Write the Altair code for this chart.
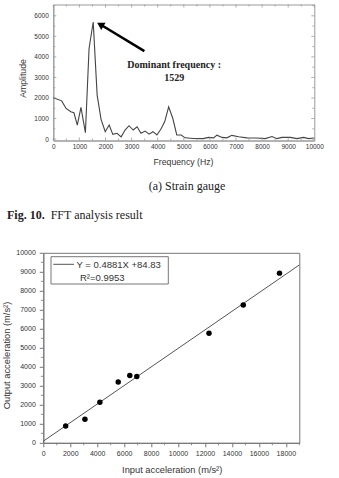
import altair as alt
import pandas as pd

# ---------------- data: FFT spectrum (strain gauge) ----------------
freq = [0, 320, 490, 670, 790, 920, 1060, 1230, 1370, 1529, 1680, 1830, 1990, 2140,
        2280, 2440, 2600, 2750, 2900, 3060, 3210, 3360, 3520, 3670, 3820, 3970, 4120,
        4270, 4420, 4580, 4730, 4900, 5050, 5370, 5740, 5950, 6140, 6270, 6460, 6650,
        6840, 7100, 7420, 7800, 8120, 8380, 8570, 8760, 9080, 9340, 9590, 9780, 10000]
amp = [2010, 1860, 1490, 1330, 1280, 680, 1540, 310, 4410, 5700, 2140, 960, 360, 680,
       230, 280, 110, 440, 650, 440, 600, 280, 390, 240, 360, 200, 480,
       850, 1570, 1000, 200, 200, 60, 30, 20, 80, 60, 190, 80, 60,
       180, 110, 60, 50, 20, 120, 20, 80, 80, 20, 80, 20, 50]

fft_x_labels = list(range(0, 10001, 1000))
fft_y_labels = list(range(0, 6001, 1000))
fft_x_minor = list(range(500, 10000, 1000))
fft_y_minor = list(range(500, 6501, 1000))

arrow_x = [3490, 1790]
arrow_y = [4280, 5590]
head_x = [1800]
head_y = [5575]
note_x = [4630, 4630]
note_y = [3600, 2980]
note_text = ["Dominant frequency :", "1529"]

# ---------------- data: input vs output acceleration ----------------
in_acc = [1660, 3090, 4200, 5560, 6420, 6940, 12300, 14840, 17530]
out_acc = [880, 1240, 2140, 3200, 3545, 3490, 5770, 7250, 8930]
slope = 0.4881
intercept = 84.83
r2 = 0.9953
fit_x = [0, 19000]

acc_x_labels = list(range(0, 18001, 2000))
acc_y_labels = list(range(0, 10001, 1000))
acc_x_minor = list(range(1000, 19001, 2000))
acc_y_minor = list(range(500, 10000, 1000))

caption_a = "(a)  Strain  gauge"
caption_fig = "Fig. 10."
caption_rest = "FFT analysis result"

# ---------------- styles ----------------
SANS = "Liberation Sans"
SERIF = "Liberation Serif"
TXT = "#333333"
FRAME = "#9a9a9a"
W1, H1 = 261, 136
W2, H2 = 256, 190

# ================= top chart =================
xs1 = alt.Scale(domain=[0, 10000], nice=False, zero=False)
ys1 = alt.Scale(domain=[-70, 6550], nice=False, zero=False)

fft_df = pd.DataFrame({"freq": freq, "amp": amp})

x_axis1 = alt.Axis(values=fft_x_labels, format="d", labelOverlap=False,
                   title="Frequency (Hz)", grid=False, ticks=False,
                   domainColor=FRAME, labelFont=SANS, labelFontSize=6.5, labelColor=TXT,
                   labelPadding=3, titleFont=SANS, titleFontSize=8.7, titleFontWeight="normal",
                   titleColor=TXT, titleX=129.7, titleY=20.5, titleBaseline="middle",
                   labelFlush=False)
y_axis1 = alt.Axis(values=fft_y_labels, format="d", labelOverlap=False,
                   title="Amplitude", grid=False, ticks=False,
                   domainColor=FRAME, labelFont=SANS, labelFontSize=6.5, labelColor=TXT,
                   labelPadding=5, titleFont=SANS, titleFontSize=8.7, titleFontWeight="normal",
                   titleColor=TXT, titleX=-30.8, titleY=73.5, titleBaseline="middle",
                   labelFlush=False)

def X1(field):
    return alt.X(field, scale=xs1, axis=x_axis1)

def Y1(field):
    return alt.Y(field, scale=ys1, axis=y_axis1)

spec_line = alt.Chart(fft_df).mark_line(color="#444444", strokeWidth=1.1).encode(
    x=X1("freq:Q"), y=Y1("amp:Q"))

xt_df = pd.DataFrame({"v": fft_x_labels})
xm_df = pd.DataFrame({"v": fft_x_minor})
yt_df = pd.DataFrame({"v": fft_y_labels})
ym_df = pd.DataFrame({"v": fft_y_minor})

def xticks(df, y0, y1):
    return alt.Chart(df).mark_rule(color=FRAME, strokeWidth=0.8).encode(
        x=X1("v:Q"), y=alt.value(y0), y2=alt.value(y1))

def yticks(df, x0, x1):
    return alt.Chart(df).mark_rule(color=FRAME, strokeWidth=0.8).encode(
        y=Y1("v:Q"), x=alt.value(x0), x2=alt.value(x1))

ticks1 = [
    xticks(xt_df, H1, H1 - 3), xticks(xm_df, H1, H1 - 2),
    xticks(xt_df, 0, 3), xticks(xm_df, 0, 2),
    yticks(yt_df, 0, 3), yticks(ym_df, 0, 2),
    yticks(yt_df, W1, W1 - 3), yticks(ym_df, W1, W1 - 2),
]

arrow_df = pd.DataFrame({"x": arrow_x, "y": arrow_y})
arrow_line = alt.Chart(arrow_df).mark_line(color="black", strokeWidth=2.5).encode(
    x=X1("x:Q"), y=Y1("y:Q"))
head_df = pd.DataFrame({"x": head_x, "y": head_y})
arrow_head = alt.Chart(head_df).mark_point(shape="triangle-up", filled=True, color="black",
                                           size=70, angle=301, opacity=1).encode(
    x=X1("x:Q"), y=Y1("y:Q"))

note_df = pd.DataFrame({"x": note_x, "y": note_y, "t": note_text})
notes = alt.Chart(note_df).mark_text(font=SERIF, fontWeight="bold", fontSize=10,
                                     color="#222222", align="center", baseline="middle").encode(
    x=X1("x:Q"), y=Y1("y:Q"), text="t:N")

cap_a = alt.Chart(pd.DataFrame({"t": [caption_a]})).mark_text(
    font=SERIF, fontSize=12, color="#222222", align="center", baseline="middle").encode(
    text="t:N", x=alt.value(133.7), y=alt.value(181.5))
cap_fig = alt.Chart(pd.DataFrame({"t": [caption_fig]})).mark_text(
    font=SERIF, fontSize=12, fontWeight="bold", color="#222222", align="left",
    baseline="middle").encode(text="t:N", x=alt.value(-46.3), y=alt.value(210.5))
cap_rest = alt.Chart(pd.DataFrame({"t": [caption_rest]})).mark_text(
    font=SERIF, fontSize=12, color="#222222", align="left", baseline="middle").encode(
    text="t:N", x=alt.value(-2.6), y=alt.value(210.5))

top = alt.layer(spec_line, *ticks1, arrow_line, arrow_head, notes, cap_a, cap_fig, cap_rest).properties(
    width=W1, height=H1, view=alt.ViewBackground(stroke=FRAME, strokeWidth=1))

spacer = alt.Chart(pd.DataFrame({"s": [0]})).mark_point(opacity=0).encode(
    x=alt.value(0), y=alt.value(0)).properties(width=10, height=H1,
                                               view=alt.ViewBackground(stroke="transparent"))

top_row = alt.hconcat(spacer, top, spacing=0, bounds="flush")

# ================= bottom chart =================
xs2 = alt.Scale(domain=[0, 19000], nice=False, zero=False)
ys2 = alt.Scale(domain=[0, 10000], nice=False, zero=False)
AX2 = "#777777"

x_axis2 = alt.Axis(values=acc_x_labels, format="d", labelOverlap=False,
                   title="Input acceleration (m/s²)", grid=False,
                   tickSize=4, tickColor=AX2, domainColor=AX2, labelFont=SANS,
                   labelFontSize=7, labelColor=TXT, labelPadding=2.5, titleFont=SANS,
                   titleFontSize=9.3, titleFontWeight="normal", titleColor=TXT,
                   titleX=128.4, titleY=26.5, titleBaseline="middle", labelFlush=False)
y_axis2 = alt.Axis(values=acc_y_labels, format="d", labelOverlap=False,
                   title="Output acceleration (m/s²)", grid=False,
                   tickSize=4, tickColor=AX2, domainColor=AX2, labelFont=SANS,
                   labelFontSize=7, labelColor=TXT, labelPadding=4, titleFont=SANS,
                   titleFontSize=9.3, titleFontWeight="normal", titleColor=TXT,
                   titleX=-37.3, titleY=102.2, titleBaseline="middle", labelFlush=False)

def X2(field):
    return alt.X(field, scale=xs2, axis=x_axis2)

def Y2(field):
    return alt.Y(field, scale=ys2, axis=y_axis2)

pts_df = pd.DataFrame({"inp": in_acc, "out": out_acc})
points = alt.Chart(pts_df).mark_circle(color="black", size=30, opacity=1).encode(
    x=X2("inp:Q"), y=Y2("out:Q"))

fit = alt.Chart(pd.DataFrame({"fx": fit_x})).transform_calculate(
    fy=f"{slope} * datum.fx + {intercept}"
).mark_line(color="#555555", strokeWidth=1).encode(x=X2("fx:Q"), y=Y2("fy:Q"))

bxm = alt.Chart(pd.DataFrame({"v": acc_x_minor})).mark_rule(color=AX2, strokeWidth=0.8).encode(
    x=X2("v:Q"), y=alt.value(H2), y2=alt.value(H2 + 2.5))
bym = alt.Chart(pd.DataFrame({"v": acc_y_minor})).mark_rule(color=AX2, strokeWidth=0.8).encode(
    y=Y2("v:Q"), x=alt.value(0), x2=alt.value(-2.5))

one = pd.DataFrame({"a": [0]})
legend_box = alt.Chart(one).mark_rect(fill="white", stroke="#777777", strokeWidth=1).encode(
    x=alt.value(7.7), x2=alt.value(125), y=alt.value(3.9), y2=alt.value(31.2))
legend_line = alt.Chart(one).mark_rule(color="#555555", strokeWidth=1).encode(
    x=alt.value(10), x2=alt.value(30.7), y=alt.value(11.5))
legend_t1 = alt.Chart(pd.DataFrame({"t": [f"Y = {slope}X +{intercept}"]})).mark_text(
    font=SANS, fontSize=9.5, color=TXT, align="left", baseline="middle").encode(
    text="t:N", x=alt.value(33.2), y=alt.value(12))
legend_t2 = alt.Chart(pd.DataFrame({"t": [f"R²={r2}"]})).mark_text(
    font=SANS, fontSize=9.5, color=TXT, align="left", baseline="middle").encode(
    text="t:N", x=alt.value(36.7), y=alt.value(25.3))

bottom = alt.layer(fit, points, bxm, bym, legend_box, legend_line, legend_t1, legend_t2).properties(
    width=W2, height=H2, view=alt.ViewBackground(stroke=AX2, strokeWidth=1))

# the nested row counts as zero height in flush layout, so the gap is the full offset
chart = alt.vconcat(top_row, bottom, spacing=248.3, bounds="flush").properties(
    autosize=alt.AutoSizeParams(type="none"),
    padding={"left": 43.3, "top": 4.5, "right": 295.7, "bottom": 473.5},
    background="white",
).configure_view(stroke="transparent")

chart.save("out.html", embed_options={"renderer": "svg", "actions": False})
